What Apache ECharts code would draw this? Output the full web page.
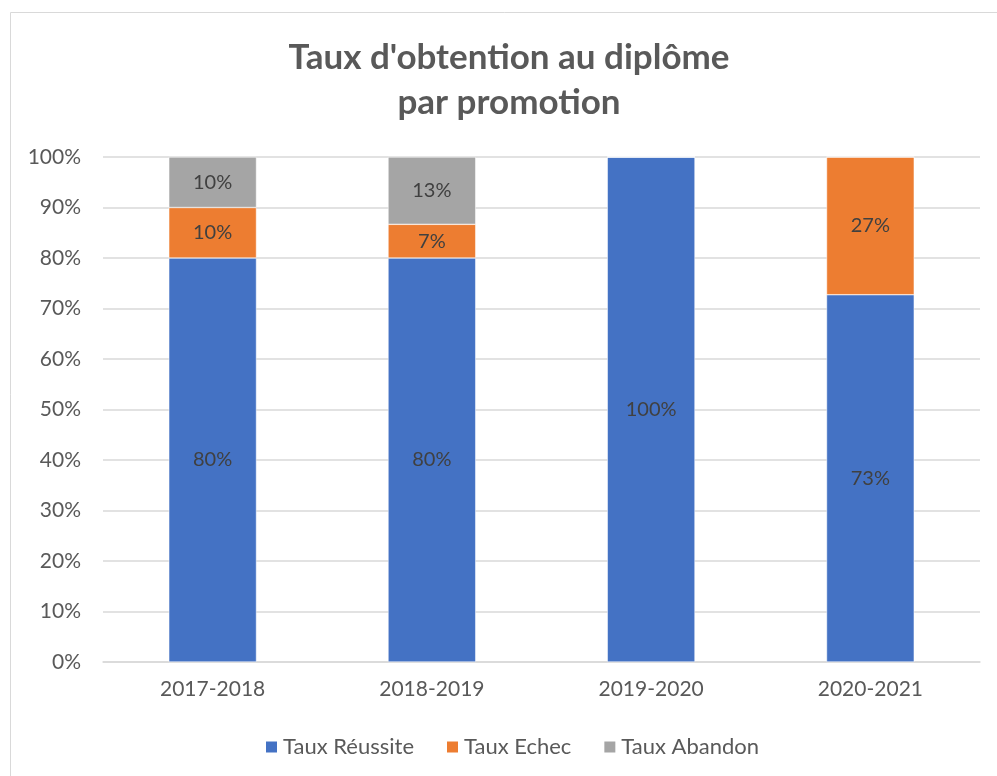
<!DOCTYPE html>
<html>
<head>
<meta charset="utf-8">
<script src="https://cdn.jsdelivr.net/npm/echarts@6/dist/echarts.min.js"></script>
<style>
  html, body { margin: 0; padding: 0; background: #fff; }
  #chart { width: 997px; height: 776px; }
</style>
</head>
<body>
<div id="chart"></div>
<script>
// promotions
var categories = ['2017-2018', '2018-2019', '2019-2020', '2020-2021'];
// rates in %
var reussite = [80, 80, 100, 72.73];
var echec = [10, 6.67, 0, 27.27];
var abandon = [10, 13.33, 0, 0];
var yTicks = [0, 10, 20, 30, 40, 50, 60, 70, 80, 90, 100];

var font = 'Lato';
var myChart = echarts.init(document.getElementById('chart'));

function lbl(p) {
  if (!p.value) return '';
  return Math.round(p.value) + '%';
}

function bar(name, data, color) {
  return {
    name: name,
    type: 'bar',
    stack: 'total',
    data: data,
    barWidth: '40%',
    itemStyle: { color: color, borderColor: '#fff', borderWidth: 0.5 },
    label: {
      show: true,
      position: 'inside',
      formatter: lbl,
      color: '#404040',
      fontFamily: font,
      fontSize: 20
    }
  };
}

var option = {
  animation: false,
  title: {
    text: "Taux d'obtention au diplôme\npar promotion",
    left: 504,
    top: 30,
    textAlign: 'center',
    textStyle: {
      fontFamily: font,
      fontSize: 35,
      fontWeight: 'bold',
      color: '#595959',
      lineHeight: 45
    }
  },
  graphic: [{
    type: 'rect',
    shape: { x: 10.5, y: 12.5, width: 1000, height: 800 },
    style: { fill: 'none', stroke: '#d9d9d9', lineWidth: 1 },
    silent: true
  }],
  grid: { left: 103, right: 17, top: 157, bottom: 114 },
  legend: {
    bottom: 13,
    left: 259,
    itemWidth: 13,
    itemHeight: 13,
    itemGap: 31,
    icon: 'rect',
    textStyle: { fontFamily: font, fontSize: 22, color: '#595959' },
    data: ['Taux Réussite', 'Taux Echec', 'Taux Abandon']
  },
  xAxis: {
    type: 'category',
    data: categories,
    axisLine: { lineStyle: { color: '#d9d9d9', width: 1.5 } },
    axisTick: { show: false },
    axisLabel: { fontFamily: font, fontSize: 21, color: '#595959', margin: 17 }
  },
  yAxis: {
    type: 'value',
    min: yTicks[0],
    max: yTicks[yTicks.length - 1],
    interval: 10,
    axisLine: { show: false },
    axisTick: { show: false },
    splitLine: { lineStyle: { color: '#d9d9d9', width: 1.5 } },
    axisLabel: {
      fontFamily: font, fontSize: 21, color: '#595959', margin: 22,
      formatter: '{value}%'
    }
  },
  series: [
    bar('Taux Réussite', reussite, '#4472C4'),
    bar('Taux Echec', echec, '#ED7D31'),
    bar('Taux Abandon', abandon, '#A5A5A5')
  ]
};

myChart.setOption(option);
</script>
</body>
</html>
